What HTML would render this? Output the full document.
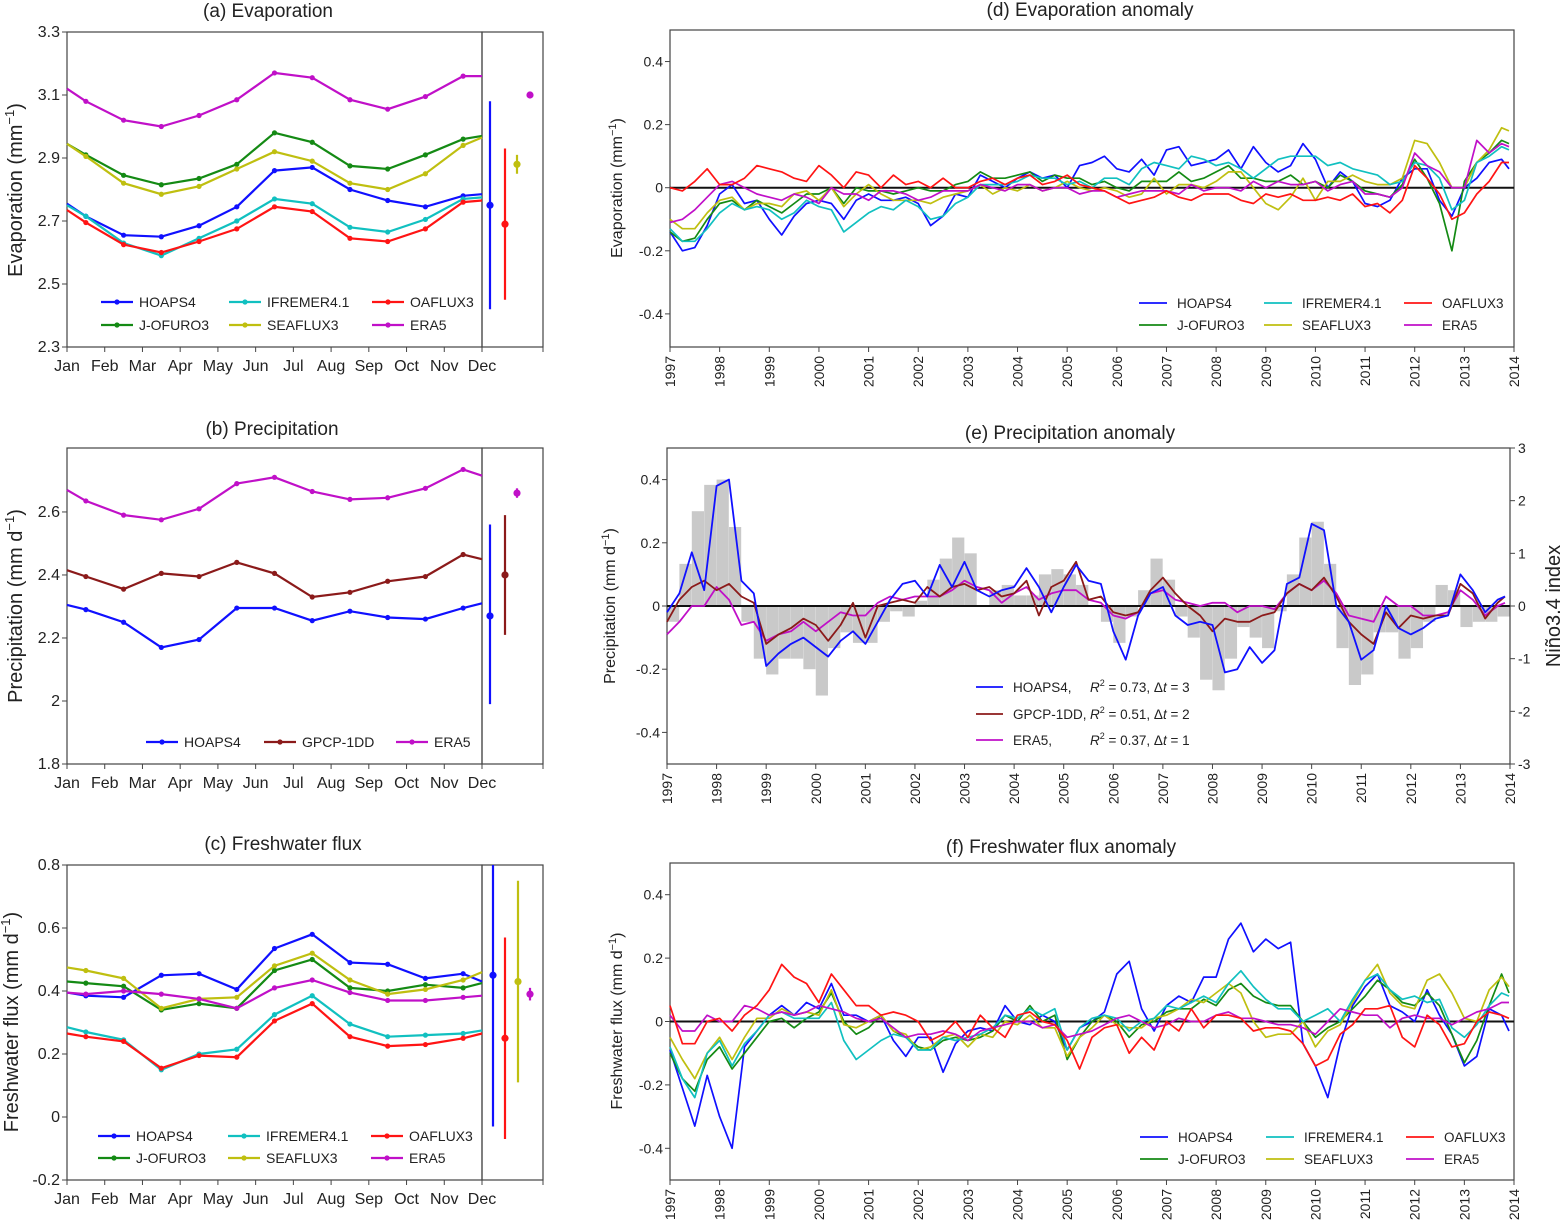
<!DOCTYPE html>
<html><head><meta charset="utf-8"><style>
html,body{margin:0;padding:0;background:#fff}
svg{display:block;font-family:"Liberation Sans",sans-serif}
</style></head><body>
<svg id="fig" width="1562" height="1229" viewBox="0 0 1562 1229" xmlns="http://www.w3.org/2000/svg"></svg>
<script>
// ---------- DATA: monthly climatology (edge, Jan-mid..Nov-mid, edge) ----------
const monthLabels = ['Jan','Feb','Mar','Apr','May','Jun','Jul','Aug','Sep','Oct','Nov','Dec'];
const aHOAPS4 = [2.755,2.715,2.655,2.65,2.685,2.745,2.86,2.87,2.80,2.765,2.745,2.78,2.785];
const aIFREMER = [2.75,2.715,2.63,2.59,2.645,2.70,2.77,2.755,2.68,2.665,2.705,2.77,2.775];
const aOAFLUX = [2.735,2.695,2.625,2.60,2.635,2.675,2.745,2.73,2.645,2.635,2.675,2.76,2.765];
const aJOFURO = [2.945,2.91,2.845,2.815,2.835,2.88,2.98,2.95,2.875,2.865,2.91,2.96,2.97];
const aSEAFLUX = [2.945,2.905,2.82,2.785,2.81,2.865,2.92,2.89,2.82,2.80,2.85,2.94,2.965];
const aERA5 = [3.12,3.08,3.02,3.00,3.035,3.085,3.17,3.155,3.085,3.055,3.095,3.16,3.16];
const aErrCenter = [2.75,2.69,2.88,3.10];
const aErrLow = [2.42,2.45,2.85,3.10];
const aErrHigh = [3.08,2.93,2.91,3.10];

const bHOAPS4 = [2.305,2.29,2.25,2.17,2.195,2.295,2.295,2.255,2.285,2.265,2.26,2.295,2.31];
const bGPCP = [2.415,2.395,2.355,2.405,2.395,2.44,2.405,2.33,2.345,2.38,2.395,2.465,2.45];
const bERA5 = [2.67,2.635,2.59,2.575,2.61,2.69,2.71,2.665,2.64,2.645,2.675,2.735,2.715];
const bErrCenter = [2.27,2.40,2.66];
const bErrLow = [1.99,2.21,2.645];
const bErrHigh = [2.56,2.59,2.675];

const cHOAPS4 = [0.395,0.385,0.38,0.45,0.455,0.405,0.535,0.58,0.49,0.485,0.44,0.455,0.43];
const cJOFURO = [0.43,0.425,0.415,0.34,0.36,0.345,0.465,0.50,0.41,0.40,0.42,0.41,0.425];
const cSEAFLUX = [0.475,0.465,0.44,0.345,0.375,0.38,0.48,0.52,0.435,0.39,0.405,0.435,0.46];
const cERA5 = [0.395,0.39,0.40,0.39,0.375,0.345,0.41,0.435,0.395,0.37,0.37,0.38,0.385];
const cIFREMER = [0.285,0.27,0.245,0.15,0.20,0.215,0.325,0.385,0.295,0.255,0.26,0.265,0.275];
const cOAFLUX = [0.265,0.255,0.24,0.155,0.195,0.19,0.305,0.36,0.255,0.225,0.23,0.25,0.265];
const cErrCenter = [0.45,0.25,0.43,0.39];
const cErrLow = [-0.03,-0.07,0.11,0.37];
const cErrHigh = [0.85,0.57,0.75,0.41];

// ---------- DATA: quarterly anomalies 1997.0 .. 2013.75 + end ----------
const yearLabels = [1997,1998,1999,2000,2001,2002,2003,2004,2005,2006,2007,2008,2009,2010,2011,2012,2013,2014];
const dHOAPS4 = [-0.14,-0.20,-0.19,-0.12,-0.02,0.01,-0.05,-0.04,-0.10,-0.15,-0.09,-0.05,-0.04,-0.05,-0.10,-0.04,-0.02,-0.04,-0.04,-0.03,-0.05,-0.12,-0.09,-0.02,-0.03,0.04,0.02,0.00,0.03,0.05,0.03,0.04,0.00,0.07,0.08,0.10,0.06,0.05,0.09,0.04,0.12,0.13,0.07,0.08,0.09,0.12,0.06,0.13,0.08,0.05,0.07,0.14,0.09,0.00,0.05,0.02,-0.05,-0.06,-0.04,0.03,0.06,0.06,-0.04,-0.09,0.00,0.03,0.08,0.09,0.06];
const dJOFURO = [-0.14,-0.17,-0.16,-0.10,-0.05,-0.04,-0.07,-0.04,-0.06,-0.08,-0.05,-0.02,-0.02,0.00,-0.05,0.00,-0.01,-0.01,-0.02,-0.01,0.00,-0.01,-0.01,0.01,0.02,0.05,0.03,0.03,0.04,0.05,0.02,0.04,0.03,0.03,0.01,0.02,0.00,-0.01,0.02,0.02,0.02,0.05,0.02,0.03,0.05,0.07,0.03,0.03,0.02,0.02,0.04,0.01,0.02,0.00,0.04,0.02,-0.01,-0.02,-0.03,0.01,0.09,0.03,-0.05,-0.20,0.02,0.08,0.11,0.15,0.14];
const dSEAFLUX = [-0.10,-0.13,-0.13,-0.08,-0.04,-0.03,-0.07,-0.05,-0.05,-0.06,-0.02,-0.01,-0.04,0.00,-0.06,-0.02,0.01,-0.02,-0.04,-0.04,-0.04,-0.05,-0.03,-0.02,-0.01,0.01,-0.02,0.00,-0.01,0.01,-0.01,0.00,0.02,0.00,-0.01,0.00,-0.01,-0.03,-0.02,0.03,-0.02,0.01,0.01,0.00,0.02,0.05,0.05,0.00,-0.05,-0.07,-0.03,0.03,-0.04,0.02,0.02,0.04,0.02,0.01,0.01,0.03,0.15,0.14,0.08,0.00,0.00,0.08,0.12,0.19,0.18];
const dIFREMER = [-0.13,-0.17,-0.17,-0.13,-0.08,-0.05,-0.07,-0.06,-0.07,-0.10,-0.08,-0.04,-0.06,-0.07,-0.14,-0.11,-0.08,-0.06,-0.07,-0.04,-0.06,-0.10,-0.09,-0.05,-0.03,0.01,0.01,0.01,0.02,0.04,0.03,0.03,0.01,0.02,0.00,0.03,0.03,0.01,0.06,0.08,0.07,0.06,0.10,0.09,0.07,0.08,0.06,0.03,0.06,0.09,0.10,0.10,0.10,0.07,0.08,0.06,0.05,0.04,0.01,0.02,0.08,0.07,0.03,-0.07,-0.04,0.08,0.10,0.13,0.12];
const dOAFLUX = [0.00,-0.01,0.02,0.06,0.01,0.01,0.03,0.07,0.06,0.05,0.03,0.02,0.07,0.04,0.00,0.05,0.04,0.00,0.04,0.01,0.02,0.00,0.03,0.00,0.00,0.02,0.03,0.01,0.03,0.04,0.01,0.02,0.04,0.01,0.00,-0.01,-0.03,-0.05,-0.04,-0.03,-0.01,-0.03,-0.04,-0.02,-0.02,-0.02,-0.04,-0.05,-0.02,-0.03,-0.02,-0.04,-0.04,-0.03,-0.04,-0.02,-0.06,-0.05,-0.08,-0.04,0.07,0.03,-0.02,-0.10,-0.08,-0.02,0.02,0.08,0.08];
const dERA5 = [-0.11,-0.10,-0.07,-0.03,0.01,0.02,0.00,-0.02,-0.03,-0.04,-0.02,-0.03,-0.05,0.00,-0.02,-0.02,-0.04,-0.01,-0.01,-0.02,-0.04,-0.03,-0.01,-0.01,-0.01,0.01,0.00,-0.01,0.01,0.01,-0.01,0.00,0.00,-0.02,-0.01,-0.01,-0.03,-0.02,-0.01,-0.01,-0.01,-0.02,0.01,-0.01,0.00,0.00,-0.01,0.02,0.00,0.02,0.01,0.01,0.02,-0.01,0.01,0.02,-0.02,-0.02,-0.03,0.00,0.11,0.07,0.05,0.00,0.00,0.15,0.11,0.14,0.13];

const eHOAPS4 = [-0.02,0.04,0.17,0.05,0.38,0.40,0.08,0.04,-0.19,-0.15,-0.12,-0.10,-0.13,-0.16,-0.11,-0.08,-0.12,-0.05,0.02,0.07,0.08,0.03,0.13,0.06,0.14,0.05,0.03,0.05,0.06,0.12,0.06,-0.02,0.06,0.13,0.08,0.07,-0.08,-0.17,-0.03,0.04,0.06,-0.03,-0.06,-0.05,-0.06,-0.21,-0.20,-0.13,-0.18,-0.14,0.07,0.09,0.26,0.24,0.00,-0.05,-0.17,-0.14,0.00,-0.07,-0.09,-0.07,-0.04,-0.03,0.10,0.05,-0.02,0.02,0.03];
const eGPCP = [-0.05,0.02,0.06,0.08,0.05,0.07,0.03,0.01,-0.12,-0.09,-0.07,-0.04,-0.06,-0.11,-0.06,0.01,-0.10,0.00,0.01,0.02,0.01,0.06,0.03,0.06,0.07,0.05,0.06,0.03,0.04,0.08,-0.03,0.06,0.08,0.14,0.02,0.03,-0.02,-0.03,-0.02,0.05,0.09,0.04,0.00,-0.03,-0.08,-0.04,-0.05,-0.05,-0.03,-0.02,0.04,0.07,0.05,0.09,0.03,-0.05,-0.09,-0.12,-0.02,-0.07,-0.03,-0.04,-0.03,-0.03,0.07,0.04,-0.04,0.01,0.03];
const eERA5 = [-0.09,-0.05,0.00,0.00,0.06,0.02,-0.06,-0.05,-0.11,-0.09,-0.08,-0.05,-0.08,-0.05,-0.02,-0.03,-0.03,0.01,0.03,0.02,0.03,0.03,0.03,0.05,0.08,0.06,0.05,0.01,0.04,0.06,0.02,0.04,0.05,0.05,0.02,0.01,-0.03,-0.04,-0.02,0.04,0.05,0.02,0.01,0.00,0.01,0.01,-0.02,0.00,0.00,-0.01,0.04,0.07,0.05,0.08,0.04,-0.03,-0.04,-0.05,0.03,0.00,0.00,-0.03,-0.03,-0.02,0.05,0.02,-0.03,0.00,0.01];
const eNino = [-0.3,0.8,1.8,2.3,2.4,1.5,-0.3,-1.0,-1.3,-1.0,-1.0,-1.2,-1.7,-0.8,-0.5,-0.7,-0.7,-0.3,-0.1,-0.2,0.1,0.5,0.9,1.3,1.0,0.0,0.3,0.4,0.2,0.2,0.6,0.7,0.6,0.4,0.0,-0.3,-0.7,-0.2,0.3,0.9,0.5,-0.2,-0.6,-1.4,-1.6,-1.0,-0.4,-0.6,-0.8,-0.1,0.6,1.3,1.6,0.8,-0.8,-1.5,-1.3,-0.5,-0.5,-1.0,-0.8,-0.3,0.4,0.3,-0.4,-0.3,-0.3,-0.2];

const fHOAPS4 = [-0.09,-0.21,-0.33,-0.17,-0.30,-0.40,-0.08,-0.03,0.02,0.05,0.02,0.06,0.04,0.12,0.02,0.02,0.00,0.02,-0.06,-0.11,-0.05,-0.05,-0.16,-0.07,-0.03,-0.02,-0.03,0.05,0.00,-0.01,0.02,0.00,-0.09,-0.02,0.00,0.03,0.15,0.19,0.04,-0.03,0.05,0.08,0.06,0.14,0.14,0.26,0.31,0.22,0.26,0.23,0.25,-0.07,-0.14,-0.24,-0.07,0.05,0.11,0.15,0.05,0.03,0.00,0.10,0.02,-0.04,-0.14,-0.11,0.04,0.02,-0.03];
const fJOFURO = [-0.10,-0.18,-0.22,-0.12,-0.08,-0.15,-0.10,-0.05,0.00,0.01,-0.02,0.01,0.03,0.09,0.00,-0.04,-0.02,0.02,-0.03,-0.05,-0.08,-0.09,-0.06,-0.05,-0.06,-0.05,-0.03,0.02,0.00,0.05,0.00,0.02,-0.12,-0.05,0.00,0.02,0.00,-0.05,-0.01,0.00,0.03,0.04,0.04,0.07,0.05,0.10,0.12,0.08,0.06,0.05,0.05,0.00,-0.05,-0.02,0.00,0.04,0.08,0.13,0.10,0.06,0.05,0.09,0.05,-0.04,-0.13,-0.06,0.05,0.15,0.09];
const fIFREMER = [-0.08,-0.18,-0.24,-0.10,-0.06,-0.14,-0.07,-0.03,0.02,0.03,0.01,0.01,0.01,0.06,-0.06,-0.12,-0.09,-0.06,-0.04,-0.05,-0.09,-0.09,-0.05,-0.06,-0.05,-0.04,-0.02,0.02,0.01,0.04,0.02,0.04,-0.09,-0.02,0.01,0.02,0.01,-0.03,0.00,0.01,0.05,0.04,0.06,0.08,0.06,0.12,0.16,0.11,0.07,0.04,0.04,0.00,0.02,0.04,0.00,0.07,0.13,0.15,0.10,0.07,0.08,0.06,0.07,-0.02,-0.05,-0.01,0.05,0.09,0.08];
const fSEAFLUX = [-0.05,-0.12,-0.18,-0.10,-0.05,-0.12,-0.05,0.01,0.01,0.04,0.02,0.03,0.02,0.10,-0.01,-0.02,0.00,0.02,-0.03,-0.04,-0.09,-0.08,-0.05,-0.04,-0.08,-0.04,-0.05,0.00,-0.01,0.02,-0.02,-0.02,-0.11,-0.05,-0.02,0.02,-0.01,-0.02,-0.02,0.01,0.02,0.04,0.07,0.06,0.09,0.12,0.09,0.00,-0.05,-0.04,-0.04,0.00,-0.08,-0.03,-0.01,0.06,0.13,0.18,0.09,0.05,0.04,0.13,0.15,0.09,0.01,0.00,0.10,0.14,0.11];
const fOAFLUX = [0.05,-0.07,-0.07,0.00,0.01,-0.03,0.02,0.05,0.10,0.18,0.14,0.12,0.06,0.15,0.10,0.05,0.05,0.02,0.03,0.02,0.00,-0.06,-0.04,0.00,-0.05,0.02,-0.02,-0.05,0.02,0.03,0.00,-0.01,-0.06,-0.15,-0.05,-0.02,-0.01,-0.10,-0.05,-0.09,0.00,-0.03,0.04,-0.02,0.02,0.02,0.01,-0.03,-0.02,-0.02,-0.03,-0.07,-0.14,-0.12,-0.04,-0.01,0.04,0.04,0.05,-0.05,-0.08,0.02,-0.01,-0.08,-0.07,0.00,0.03,0.02,0.01];
const fERA5 = [0.02,-0.03,-0.03,0.02,0.00,0.00,0.05,0.04,0.02,0.03,0.02,0.03,0.05,0.04,0.03,0.01,0.00,0.01,-0.02,-0.05,-0.04,-0.04,-0.03,-0.04,-0.06,-0.03,-0.02,-0.01,0.00,0.00,-0.02,-0.01,-0.05,-0.04,-0.03,-0.01,0.01,0.02,0.00,-0.02,-0.01,0.01,0.00,0.00,0.02,0.03,0.01,0.01,0.00,-0.01,-0.01,-0.02,-0.04,0.00,0.04,0.03,0.02,0.02,-0.02,0.01,0.02,0.01,0.01,-0.01,0.01,0.03,0.04,0.06,0.06];

// ---------- rendering ----------
const NS = 'http://www.w3.org/2000/svg';
const svg = document.getElementById('fig');
function mk(tag, attrs, parent){
  const e = document.createElementNS(NS, tag);
  for (const k in attrs) e.setAttribute(k, attrs[k]);
  (parent || svg).appendChild(e);
  return e;
}
function txt(str, x, y, size, anchor, parent, rot){
  const t = mk('text', {x:x, y:y, 'font-size':size, 'text-anchor':anchor || 'middle', fill:'#222'}, parent);
  if (rot) t.setAttribute('transform', 'rotate(' + rot + ' ' + x + ' ' + y + ')');
  t.textContent = str;
  return t;
}
const COL = {HOAPS4:'#1010ff', IFREMER:'#11c0c0', OAFLUX:'#ff1414', JOFURO:'#148a14', SEAFLUX:'#bfbf10', ERA5:'#c010c8', GPCP:'#8b1a1a'};

function panel(P, name){
  const g = mk('g', {});
  
  
  P.g = g;
  P.y = v => P.y1 - (v - P.ymin) / (P.ymax - P.ymin) * (P.y1 - P.y0);
  const frame = mk('rect', {x:P.x0, y:P.y0, width:P.x1 - P.x0, height:P.y1 - P.y0, fill:'none', stroke:'#444', 'stroke-width':1.2}, g);
  
  
  return g;
}
function yTicks(P, ticks, labels, size, name){
  ticks.forEach((v, i) => {
    const y = P.y(v);
    mk('line', {x1:P.x0 - 5, x2:P.x0, y1:y, y2:y, stroke:'#444'}, P.g);
    const t = txt(labels[i], P.x0 - 7, y + 5, size, 'end', P.g);
    
    
  });
}

// Monthly panels
function monthPanel(P, name, series, errs, legend){
  panel(P, name);
  P.x = m => P.x0 + m * (P.x1 - P.x0) / 11;
  // inset box
  const ib = mk('rect', {x:P.x1, y:P.y0, width:P.xi - P.x1, height:P.y1 - P.y0, fill:'none', stroke:'#444', 'stroke-width':1.2}, P.g);
  
  
  monthLabels.forEach((m, i) => {
    const x = P.x(i);
    mk('line', {x1:x, x2:x, y1:P.y1, y2:P.y1 + 5, stroke:'#444'}, P.g);
    const t = txt(m, x, P.y1 + 24, 16, 'middle', P.g);
    
    
  });
  mk('line', {x1:P.xi, x2:P.xi, y1:P.y1, y2:P.y1 + 5, stroke:'#444'}, P.g);
  series.forEach(s => {
    const pos = s.v.map((v, i) => [i === 0 ? 0 : (i === s.v.length - 1 ? 11 : i - 0.5), v]);
    const pl = mk('polyline', {points:pos.map(p => P.x(p[0]).toFixed(1) + ',' + P.y(p[1]).toFixed(1)).join(' '), fill:'none', stroke:s.c, 'stroke-width':2.2}, P.g);
    
    
    pos.slice(1, -1).forEach(p => {
      const d = mk('circle', {cx:P.x(p[0]), cy:P.y(p[1]), r:2.6, fill:s.c}, P.g);
      
      
    });
  });
  errs.x.forEach((x, i) => {
    const c = errs.c[i];
    const l = mk('line', {x1:x, x2:x, y1:Math.max(P.y0, P.y(errs.hi[i])), y2:P.y(errs.lo[i]), stroke:c, 'stroke-width':2.2}, P.g);
    
    
    const d = mk('circle', {cx:x, cy:P.y(errs.ce[i]), r:3.6, fill:c}, P.g);
    
    
  });
  legend.forEach(L => {
    const lg = mk('g', {}, P.g);
    
    
    mk('line', {x1:L[0], x2:L[0] + 32, y1:L[1], y2:L[1], stroke:L[3], 'stroke-width':2.2}, lg);
    mk('circle', {cx:L[0] + 16, cy:L[1], r:2.6, fill:L[3]}, lg);
    txt(L[2], L[0] + 38, L[1] + 5, 14, 'start', lg);
  });
}

const PA = {x0:67, x1:482, xi:543, y0:32, y1:347, ymin:2.3, ymax:3.3};
monthPanel(PA, 'panel-a-evaporation', [
  {n:'ERA5', v:aERA5, c:COL.ERA5}, {n:'J-OFURO3', v:aJOFURO, c:COL.JOFURO}, {n:'SEAFLUX3', v:aSEAFLUX, c:COL.SEAFLUX},
  {n:'HOAPS4', v:aHOAPS4, c:COL.HOAPS4}, {n:'IFREMER4.1', v:aIFREMER, c:COL.IFREMER}, {n:'OAFLUX3', v:aOAFLUX, c:COL.OAFLUX}],
  {x:[490,505,517,530], ce:aErrCenter, lo:aErrLow, hi:aErrHigh, c:[COL.HOAPS4,COL.OAFLUX,COL.SEAFLUX,COL.ERA5]},
  [[101,302,'HOAPS4',COL.HOAPS4],[229,302,'IFREMER4.1',COL.IFREMER],[372,302,'OAFLUX3',COL.OAFLUX],
   [101,325,'J-OFURO3',COL.JOFURO],[229,325,'SEAFLUX3',COL.SEAFLUX],[372,325,'ERA5',COL.ERA5]]);
yTicks(PA, [2.3,2.5,2.7,2.9,3.1,3.3], ['2.3','2.5','2.7','2.9','3.1','3.3'], 16, 'a-y');

const PB = {x0:67, x1:482, xi:543, y0:448, y1:764, ymin:1.8, ymax:2.803};
monthPanel(PB, 'panel-b-precipitation', [
  {n:'ERA5', v:bERA5, c:COL.ERA5}, {n:'GPCP-1DD', v:bGPCP, c:COL.GPCP}, {n:'HOAPS4', v:bHOAPS4, c:COL.HOAPS4}],
  {x:[490,505,517], ce:bErrCenter, lo:bErrLow, hi:bErrHigh, c:[COL.HOAPS4,COL.GPCP,COL.ERA5]},
  [[146,742,'HOAPS4',COL.HOAPS4],[264,742,'GPCP-1DD',COL.GPCP],[396,742,'ERA5',COL.ERA5]]);
yTicks(PB, [1.8,2,2.2,2.4,2.6], ['1.8','2','2.2','2.4','2.6'], 16, 'b-y');

const PC = {x0:67, x1:482, xi:543, y0:865, y1:1180, ymin:-0.2, ymax:0.8};
monthPanel(PC, 'panel-c-freshwater-flux', [
  {n:'HOAPS4', v:cHOAPS4, c:COL.HOAPS4}, {n:'J-OFURO3', v:cJOFURO, c:COL.JOFURO}, {n:'SEAFLUX3', v:cSEAFLUX, c:COL.SEAFLUX},
  {n:'ERA5', v:cERA5, c:COL.ERA5}, {n:'IFREMER4.1', v:cIFREMER, c:COL.IFREMER}, {n:'OAFLUX3', v:cOAFLUX, c:COL.OAFLUX}],
  {x:[493,505,518,530], ce:cErrCenter, lo:cErrLow, hi:cErrHigh, c:[COL.HOAPS4,COL.OAFLUX,COL.SEAFLUX,COL.ERA5]},
  [[98,1136,'HOAPS4',COL.HOAPS4],[228,1136,'IFREMER4.1',COL.IFREMER],[371,1136,'OAFLUX3',COL.OAFLUX],
   [98,1158,'J-OFURO3',COL.JOFURO],[228,1158,'SEAFLUX3',COL.SEAFLUX],[371,1158,'ERA5',COL.ERA5]]);
yTicks(PC, [-0.2,0,0.2,0.4,0.6,0.8], ['-0.2','0','0.2','0.4','0.6','0.8'], 16, 'c-y');

// Time series panels
function tsPanel(P, name, series, legend, lw){
  panel(P, name);
  P.x = t => P.x0 + (t - 1997) / 17 * (P.x1 - P.x0);
  yearLabels.forEach(yr => {
    const x = P.x(yr);
    mk('line', {x1:x, x2:x, y1:P.y1, y2:P.y1 + 5, stroke:'#444'}, P.g);
    const t = txt(String(yr), x + 5, P.y1 + 9, 14, 'end', P.g, -90);
    
    
  });
  const z = mk('line', {x1:P.x0, x2:P.x1, y1:P.y(0), y2:P.y(0), stroke:'#111', 'stroke-width':2}, P.g);
  
  
  series.forEach(s => {
    const pts = s.v.map((v, i) => P.x(Math.min(1997 + i * 0.25, 2013.9)).toFixed(1) + ',' + P.y(v).toFixed(1)).join(' ');
    const pl = mk('polyline', {points:pts, fill:'none', stroke:s.c, 'stroke-width':lw || 1.7, 'stroke-linejoin':'round'}, P.g);
    
    
  });
  legend.forEach(L => {
    const lg = mk('g', {}, P.g);
    
    
    mk('line', {x1:L[0], x2:L[0] + 28, y1:L[1], y2:L[1], stroke:L[3], 'stroke-width':1.8}, lg);
    txt(L[2], L[0] + 38, L[1] + 5, 13.5, 'start', lg);
  });
}
const six = (h,j,s,i,o,e) => [
  {n:'HOAPS4', v:h, c:COL.HOAPS4}, {n:'J-OFURO3', v:j, c:COL.JOFURO}, {n:'SEAFLUX3', v:s, c:COL.SEAFLUX},
  {n:'IFREMER4.1', v:i, c:COL.IFREMER}, {n:'ERA5', v:e, c:COL.ERA5}, {n:'OAFLUX3', v:o, c:COL.OAFLUX}];

const PD = {x0:670, x1:1514, y0:30, y1:347, ymin:-0.505, ymax:0.5};
tsPanel(PD, 'panel-d-evaporation-anomaly', six(dHOAPS4,dJOFURO,dSEAFLUX,dIFREMER,dOAFLUX,dERA5),
  [[1139,303,'HOAPS4',COL.HOAPS4],[1264,303,'IFREMER4.1',COL.IFREMER],[1404,303,'OAFLUX3',COL.OAFLUX],
   [1139,325,'J-OFURO3',COL.JOFURO],[1264,325,'SEAFLUX3',COL.SEAFLUX],[1404,325,'ERA5',COL.ERA5]]);
yTicks(PD, [-0.4,-0.2,0,0.2,0.4], ['-0.4','-0.2','0','0.2','0.4'], 14, 'd-y');

const PE = {x0:667, x1:1510, y0:448, y1:764, ymin:-0.5, ymax:0.5};
// nino bars drawn first
(function(){
  const gN = mk('g', {});
  
  
  const xb = t => PE.x0 + (t - 1997) / 17 * (PE.x1 - PE.x0);
  const yn = n => 606 - n / 3 * 158;
  eNino.forEach((n, i) => {
    const x = xb(1997 + i * 0.25);
    const r = mk('rect', {x:x, y:Math.min(yn(n), yn(0)), width:12.2, height:Math.abs(yn(n) - yn(0)), fill:'#c9c9c9'}, gN);
    
    
  });
})();
tsPanel(PE, 'panel-e-precipitation-anomaly', [
  {n:'ERA5', v:eERA5, c:COL.ERA5}, {n:'GPCP-1DD', v:eGPCP, c:COL.GPCP}, {n:'HOAPS4', v:eHOAPS4, c:COL.HOAPS4}], [], 1.8);
yTicks(PE, [-0.4,-0.2,0,0.2,0.4], ['-0.4','-0.2','0','0.2','0.4'], 14, 'e-y');
// right axis
[-3,-2,-1,0,1,2,3].forEach(n => {
  const y = 606 - n / 3 * 158;
  mk('line', {x1:PE.x1, x2:PE.x1 + 5, y1:y, y2:y, stroke:'#444'});
  const t = txt(String(n), PE.x1 + 8, y + 5, 14, 'start');
  
  
});
// e legend
[[976,687,'HOAPS4,',COL.HOAPS4,'0.73','3'],[976,714,'GPCP-1DD,',COL.GPCP,'0.51','2'],[976,740,'ERA5,',COL.ERA5,'0.37','1']].forEach(L => {
  const lg = mk('g', {});
  
  
  mk('line', {x1:L[0], x2:L[0] + 27, y1:L[1], y2:L[1], stroke:L[3], 'stroke-width':1.8}, lg);
  txt(L[2], L[0] + 37, L[1] + 5, 13.5, 'start', lg);
  const t = mk('text', {x:L[0] + 114, y:L[1] + 5, 'font-size':13.5, fill:'#222'}, lg);
  t.innerHTML = '<tspan font-style="italic">R</tspan><tspan dy="-6" font-size="9">2</tspan><tspan dy="6"> = ' + L[4] + ', Δ</tspan><tspan font-style="italic">t</tspan> = ' + L[5];
});

const PF = {x0:670, x1:1514, y0:863, y1:1180, ymin:-0.5, ymax:0.5};
tsPanel(PF, 'panel-f-freshwater-flux-anomaly', six(fHOAPS4,fJOFURO,fSEAFLUX,fIFREMER,fOAFLUX,fERA5),
  [[1140,1137,'HOAPS4',COL.HOAPS4],[1266,1137,'IFREMER4.1',COL.IFREMER],[1406,1137,'OAFLUX3',COL.OAFLUX],
   [1140,1159,'J-OFURO3',COL.JOFURO],[1266,1159,'SEAFLUX3',COL.SEAFLUX],[1406,1159,'ERA5',COL.ERA5]]);
yTicks(PF, [-0.4,-0.2,0,0.2,0.4], ['-0.4','-0.2','0','0.2','0.4'], 14, 'f-y');

// titles
[['(a) Evaporation',268,17,'title-a'],['(b) Precipitation',272,435,'title-b'],['(c) Freshwater flux',283,850,'title-c'],
 ['(d) Evaporation anomaly',1090,16,'title-d'],['(e) Precipitation anomaly',1070,439,'title-e'],['(f) Freshwater flux anomaly',1061,853,'title-f']].forEach(T => {
  const t = txt(T[0], T[1], T[2], 19, 'middle');
  
  
});
// y axis titles
function yTitle(html, x, y, size, name){
  const t = mk('text', {x:x, y:y, 'font-size':size, 'text-anchor':'middle', fill:'#222', transform:'rotate(-90 ' + x + ' ' + y + ')'});
  t.innerHTML = html;
  
  
}
yTitle('Evaporation (mm<tspan dy="-8" font-size="13">−1</tspan><tspan dy="8">)</tspan>', 22, 190, 20, 'y-axis-title-a');
yTitle('Precipitation (mm d<tspan dy="-8" font-size="13">−1</tspan><tspan dy="8">)</tspan>', 22, 606, 20, 'y-axis-title-b');
yTitle('Freshwater flux (mm d<tspan dy="-8" font-size="13">−1</tspan><tspan dy="8">)</tspan>', 18, 1022, 20, 'y-axis-title-c');
yTitle('Evaporation (mm<tspan dy="-6" font-size="11">−1</tspan><tspan dy="6">)</tspan>', 622, 188, 16, 'y-axis-title-d');
yTitle('Precipitation (mm d<tspan dy="-6" font-size="11">−1</tspan><tspan dy="6">)</tspan>', 615, 606, 16, 'y-axis-title-e');
yTitle('Freshwater flux (mm d<tspan dy="-6" font-size="11">−1</tspan><tspan dy="6">)</tspan>', 622, 1021, 16, 'y-axis-title-f');
yTitle('Niño3.4 index', 1560, 606, 20, 'nino-axis-title');
</script>
</body></html>
